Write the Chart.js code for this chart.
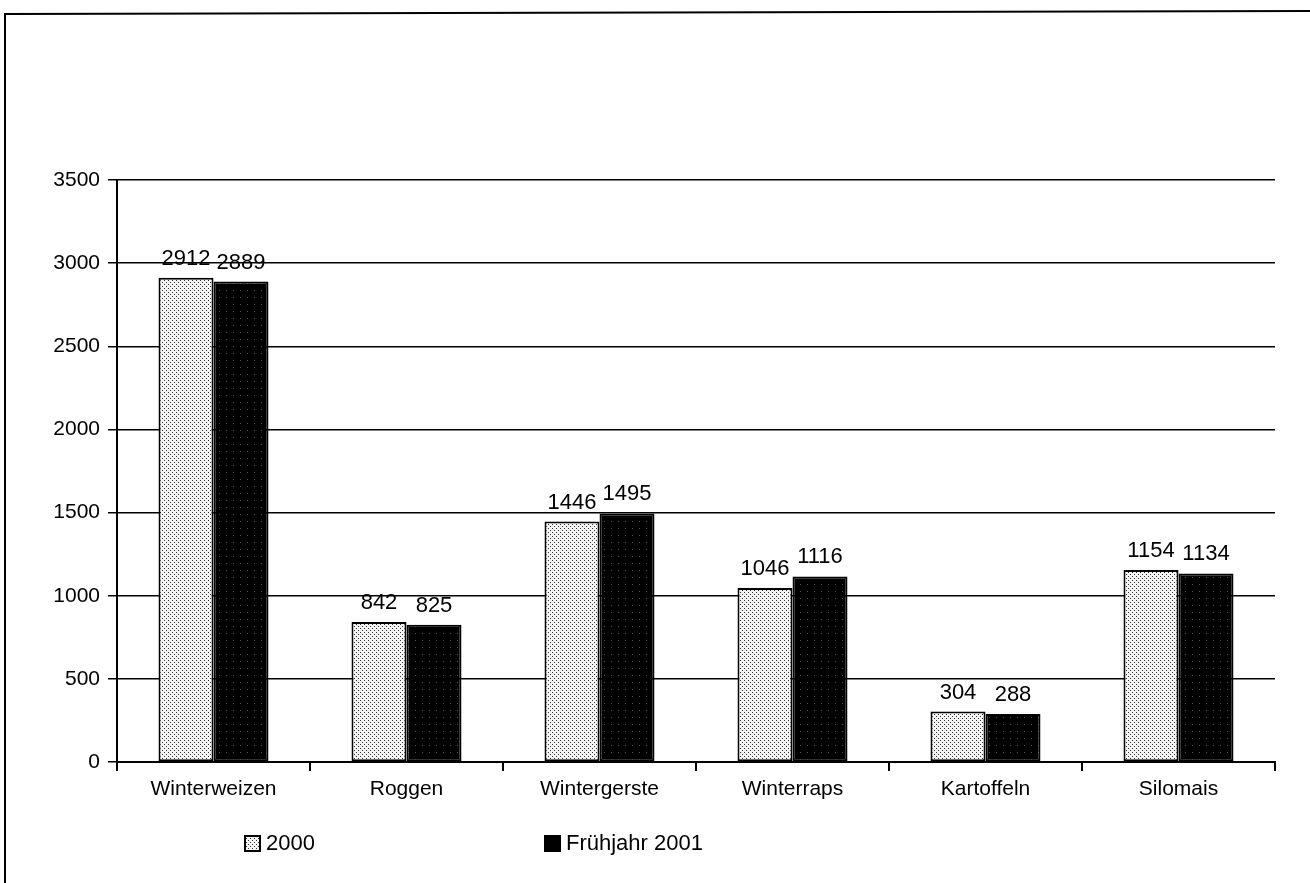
<!DOCTYPE html>
<html>
<head>
<meta charset="utf-8">
<script src="https://cdn.jsdelivr.net/npm/chart.js@4/dist/chart.umd.min.js"></script>
<style>
  html, body { margin: 0; padding: 0; background: #fff; }
  #wrap { width: 1310px; height: 883px; position: relative; }
</style>
</head>
<body>
<div id="wrap"><canvas id="chart" width="1310" height="883"></canvas></div>
<script>
const categories = ['Winterweizen', 'Roggen', 'Wintergerste', 'Winterraps', 'Kartoffeln', 'Silomais'];
const values2000 = [2912, 842, 1446, 1046, 304, 1154];
const values2001 = [2889, 825, 1495, 1116, 288, 1134];
const seriesNames = ['2000', 'Frühjahr 2001'];
const yTicks = [0, 500, 1000, 1500, 2000, 2500, 3000, 3500];

const FONT = '"Liberation Sans", Arial, Helvetica, sans-serif';

// stipple patterns like the scanned print
function makePattern(bg, dot, size, dots) {
  const c = document.createElement('canvas');
  c.width = size; c.height = size;
  const g = c.getContext('2d');
  g.fillStyle = bg;
  g.fillRect(0, 0, size, size);
  g.fillStyle = dot;
  dots.forEach(d => g.fillRect(d[0], d[1], 1, 1));
  return g.createPattern(c, 'repeat');
}
const lightFill = makePattern('#f4f4f4', '#333', 4, [[0, 0], [2, 2]]);
const darkFill = makePattern('#000', '#555', 7, [[2, 3]]);

// outer frame (left + top edge of the scanned page box)
const framePlugin = {
  id: 'frame',
  beforeDraw(chart) {
    const ctx = chart.ctx;
    ctx.save();
    ctx.fillStyle = '#fff';
    ctx.fillRect(0, 0, chart.width, chart.height);
    ctx.strokeStyle = '#000';
    ctx.lineWidth = 2;
    ctx.beginPath();
    ctx.moveTo(5, chart.height);
    ctx.lineTo(5, 14);
    ctx.lineTo(chart.width, 11);
    ctx.stroke();
    ctx.restore();
  }
};

// value labels on top of bars
const valueLabels = {
  id: 'valueLabels',
  afterDatasetsDraw(chart) {
    const ctx = chart.ctx;
    ctx.save();
    ctx.font = '22px ' + FONT;
    ctx.fillStyle = '#000';
    ctx.textAlign = 'center';
    ctx.textBaseline = 'bottom';
    chart.data.datasets.forEach((ds, i) => {
      chart.getDatasetMeta(i).data.forEach((bar, j) => {
        ctx.fillText(String(ds.data[j]), bar.x, bar.y - 8);
      });
    });
    ctx.restore();
  }
};

// legend placed like the original (two items far apart, below the axis)
const legendPlugin = {
  id: 'customLegend',
  afterDraw(chart) {
    const ctx = chart.ctx;
    const a = chart.chartArea;
    const y = a.bottom + 81;
    const items = [
      { x: a.left + 128, fill: lightFill, text: seriesNames[0] },
      { x: a.left + 428, fill: '#000', text: seriesNames[1] }
    ];
    ctx.save();
    ctx.font = '22px ' + FONT;
    ctx.textBaseline = 'middle';
    items.forEach(it => {
      ctx.fillStyle = it.fill;
      ctx.fillRect(it.x, y - 7, 15, 15);
      ctx.strokeStyle = '#000';
      ctx.lineWidth = 2;
      ctx.strokeRect(it.x, y - 7, 15, 15);
      ctx.fillStyle = '#000';
      ctx.fillText(it.text, it.x + 21, y + 1);
    });
    ctx.restore();
  }
};

new Chart(document.getElementById('chart'), {
  type: 'bar',
  data: {
    labels: categories,
    datasets: [
      {
        label: seriesNames[0],
        data: values2000,
        backgroundColor: lightFill,
        borderColor: '#000',
        borderWidth: 2,
        borderSkipped: false
      },
      {
        label: seriesNames[1],
        data: values2001,
        backgroundColor: darkFill,
        borderColor: '#000',
        borderWidth: 2,
        borderSkipped: false
      }
    ]
  },
  options: {
    responsive: false,
    animation: false,
    devicePixelRatio: 1,
    layout: { padding: { top: 180, right: 35, bottom: 60, left: 0 } },
    datasets: { bar: { categoryPercentage: 0.57, barPercentage: 1 } },
    plugins: {
      legend: { display: false },
      tooltip: { enabled: false }
    },
    scales: {
      x: {
        grid: { display: true, drawOnChartArea: false, drawTicks: true, tickLength: 9, color: '#000', lineWidth: 2 },
        border: { display: true, color: '#000', width: 2 },
        ticks: { color: '#000', font: { family: FONT, size: 21 }, padding: 6, maxRotation: 0 },
        afterFit(s) { s.height = 61; }
      },
      y: {
        min: 0,
        max: 3500,
        afterBuildTicks(s) { s.ticks = yTicks.map(v => ({ value: v })); },
        grid: { color: '#000', lineWidth: 1.5, tickLength: 9, drawTicks: true },
        border: { display: true, color: '#000', width: 2 },
        ticks: { color: '#000', font: { family: FONT, size: 21 }, padding: 8, callback: v => String(v) },
        afterFit(s) { s.width = 117; }
      }
    }
  },
  plugins: [framePlugin, valueLabels, legendPlugin]
});
</script>
</body>
</html>
